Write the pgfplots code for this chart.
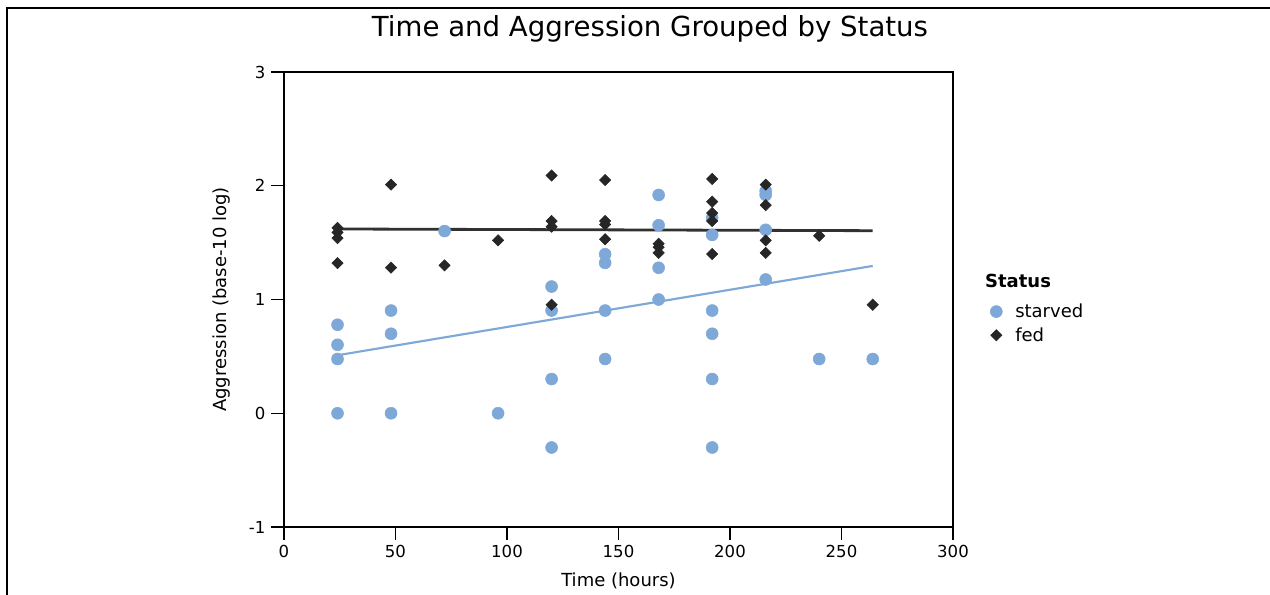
\documentclass[border=0pt]{standalone}
\usepackage{fontspec}
\setmainfont{DejaVu Sans}
\usepackage{pgfplots}
\pgfplotsset{compat=1.18}

\definecolor{starvedblue}{RGB}{126,168,215}
\definecolor{fedblack}{RGB}{38,38,38}

\begin{document}
\begin{tikzpicture}
% page: 1270 x 594 px at 0.75pt per px
\useasboundingbox (0,0) rectangle (952.5pt,-445.5pt);
\draw[line width=1.9pt,black] (5.4pt,-460pt) -- (5.4pt,-6pt) -- (960pt,-6pt);
\node[font=\fontsize{20.7}{24}\selectfont] at (487.5pt,-22pt) {Time and Aggression Grouped by Status};

\begin{axis}[
    at={(213pt,-395.25pt)}, anchor=south west,
    scale only axis,
    width=501.75pt, height=341.25pt,
    clip=false,
    xmin=0, xmax=300, ymin=-1, ymax=3,
    xtick={0,50,...,300}, ytick={-1,0,1,2,3},
    tick align=outside,
    xtick pos=bottom, ytick pos=left,
    major tick length=9.5pt,
    tick style={black, line width=0.9pt},
    axis line style={black, line width=0.9pt},
    tick label style={font=\fontsize{12.4}{14}\selectfont},
    /pgf/number format/assume math mode=true,
    xticklabel style={yshift=-1pt},
    yticklabel style={xshift=-1pt},
    xlabel={Time (hours)},
    ylabel={Aggression (base-10 log)},
    label style={font=\fontsize{13.5}{16}\selectfont},
    xlabel style={at={(axis description cs:0.5,-0.119)}, anchor=center},
    ylabel style={at={(axis description cs:-0.093,0.5)}, anchor=center},
    legend style={at={(rel axis cs:1.046,0.503)}, anchor=north west,
        draw=none, fill=none, font=\fontsize{13.5}{16}\selectfont,
        row sep=2pt},
    legend cell align=left,
    legend image code/.code={\draw[#1] plot coordinates {(0pt,0pt)};
        \path (-6pt,0pt) (12pt,0pt);},
]
% fitted lines
\addplot[forget plot, draw=starvedblue, line width=1.6pt] coordinates {(24,0.51) (264,1.295)};
\addplot[forget plot, draw=fedblack!95, line width=2.1pt] coordinates {(24,1.62) (264,1.605)};

% starved
\addplot[only marks, mark=*, mark size=4.5pt, color=starvedblue,
    mark options={draw=none, fill=starvedblue}] coordinates {
(24,0.778) (24,0.602) (24,0.477) (24,0)
(48,0.903) (48,0.699) (48,0)
(72,1.602)
(96,0)
(120,1.114) (120,0.903) (120,0.301) (120,-0.301)
(144,1.398) (144,1.322) (144,0.903) (144,0.477)
(168,1.919) (168,1.653) (168,1.279) (168,1.0)
(192,1.716) (192,1.568) (192,0.903) (192,0.699) (192,0.301) (192,-0.301)
(216,1.954) (216,1.92) (216,1.613) (216,1.176)
(240,0.477)
(264,0.477)
};
\addlegendentry{starved}

% fed
\addplot[only marks, mark=square*, mark size=3pt, color=fedblack,
    mark options={rotate=45, draw=none, fill=fedblack}] coordinates {
(24,1.63) (24,1.59) (24,1.54) (24,1.32)
(48,2.01) (48,1.28)
(72,1.30)
(96,1.52)
(120,2.09) (120,1.69) (120,1.64) (120,0.954)
(144,2.05) (144,1.69) (144,1.66) (144,1.53)
(168,1.49) (168,1.46) (168,1.41)
(192,2.06) (192,1.86) (192,1.76) (192,1.69) (192,1.40)
(216,2.01) (216,1.83) (216,1.52) (216,1.41)
(240,1.56)
(264,0.954)
};
\addlegendentry{fed}

\node[anchor=west, font=\bfseries\fontsize{13.5}{16}\selectfont]
    at (rel axis cs:1.041,0.54) {Status};
\end{axis}
\end{tikzpicture}
\end{document}
